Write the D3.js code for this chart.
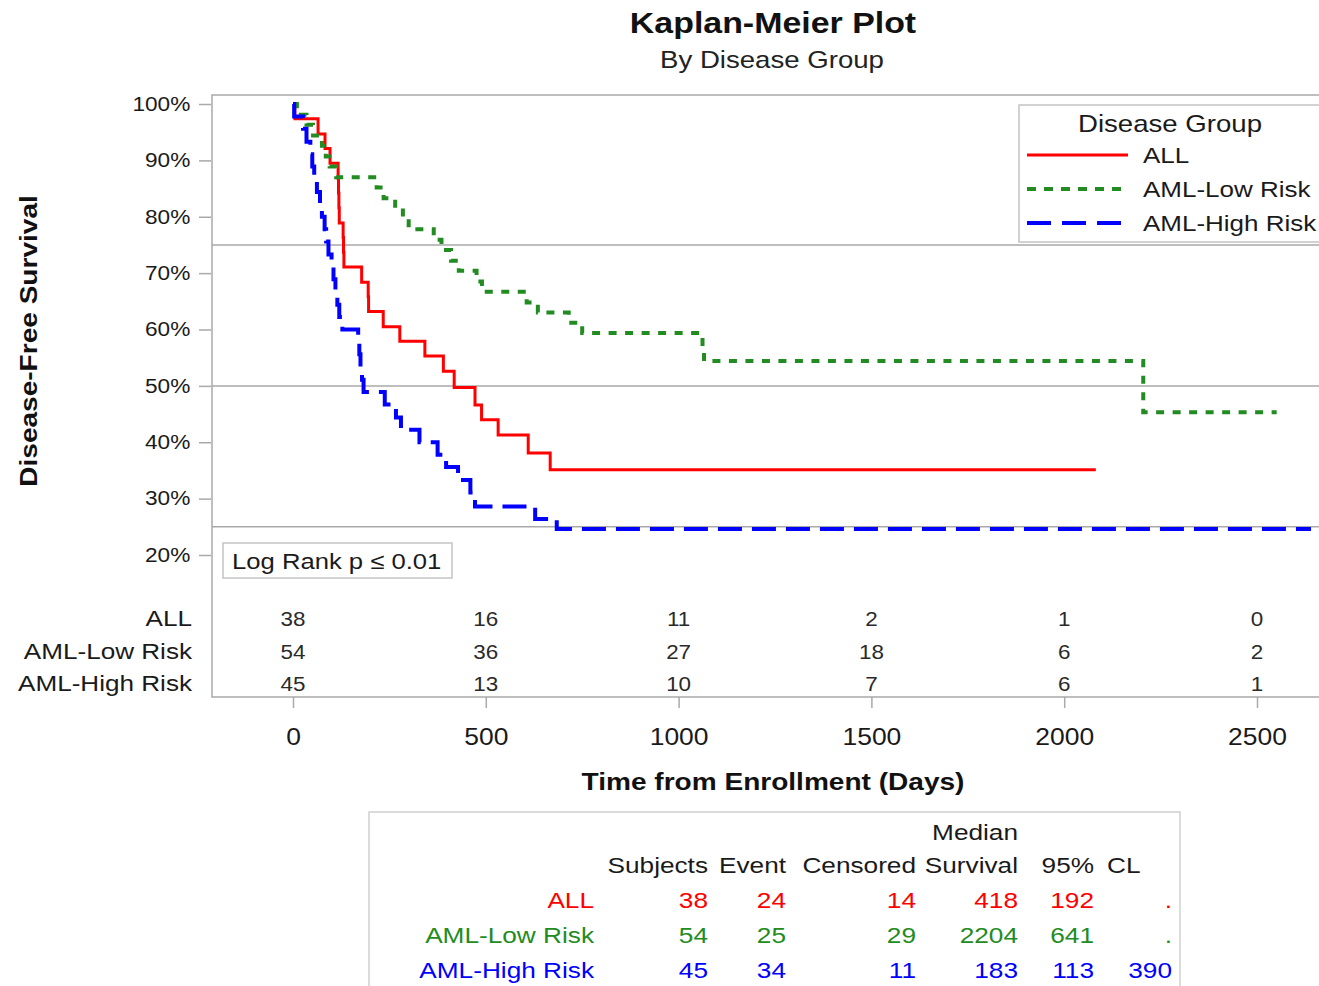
<!DOCTYPE html>
<html><head><meta charset="utf-8">
<script src="https://cdn.jsdelivr.net/npm/d3@7"></script>
<style>
body{margin:0;background:#fff}
svg{display:block;font-family:"Liberation Sans",Arial,sans-serif}
</style>
</head><body>
<svg id="c" width="1319" height="986"></svg>
<script>
// ---------------- data ----------------
const groups = ["ALL", "AML-Low Risk", "AML-High Risk"];
const groupColors = ["#ff0000", "#228b22", "#0000ff"];

const allTime = [0,5,65,83,96,117,118,119,120,130,131,132,178,195,196,234,277,342,390,418,472,489,532,610,667,2082];
const allSurv = [1,0.974,0.947,0.921,0.895,0.868,0.842,0.816,0.789,0.763,0.737,0.711,0.684,0.658,0.632,0.605,0.579,0.553,0.526,0.497,0.466,0.440,0.413,0.381,0.351,0.351];

const lowTime = [0,10,35,52,75,85,95,112,217,235,265,285,300,365,385,410,430,476,490,606,635,715,750,1062,1066,2205,2551];
const lowSurv = [1,0.981,0.963,0.944,0.926,0.907,0.889,0.870,0.852,0.833,0.815,0.796,0.778,0.759,0.741,0.722,0.704,0.685,0.667,0.648,0.630,0.612,0.594,0.569,0.544,0.453,0.453];

const highTime = [0,3,26,35,45,50,55,62,70,75,82,86,92,100,105,110,115,120,128,169,172,175,179,183,238,267,280,328,375,397,428,460,472,628,684,2640];
const highSurv = [1,0.978,0.956,0.933,0.911,0.889,0.867,0.844,0.822,0.800,0.778,0.756,0.733,0.711,0.689,0.667,0.644,0.622,0.600,0.578,0.556,0.533,0.511,0.489,0.467,0.444,0.422,0.400,0.378,0.356,0.333,0.311,0.286,0.264,0.246,0.246];

const riskTimes = [0, 500, 1000, 1500, 2000, 2500];
const riskAll  = [38, 16, 11, 2, 1, 0];
const riskLow  = [54, 36, 27, 18, 6, 2];
const riskHigh = [45, 13, 10, 7, 6, 1];

const xTicks = [0, 500, 1000, 1500, 2000, 2500];
const yTicks = [0.2, 0.3, 0.4, 0.5, 0.6, 0.7, 0.8, 0.9, 1.0];
const quartileLines = [0.25, 0.5, 0.75];

const tblHeader1 = ["", "", "", "Median", "", ""];
const tblHeader2 = ["Subjects", "Event", "Censored", "Survival", "95%", "CL"];
const tblSubjects = [38, 54, 45];
const tblEvent = [24, 25, 34];
const tblCensored = [14, 29, 11];
const tblMedian = [418, 2204, 183];
const tblLower = [192, 641, 113];
const tblUpper = [".", ".", "390"];

const pLabel = "Log Rank p \u2264 0.01";

// ---------------- layout ----------------
const SX = 1.15;           // horizontal text widening (wide SAS font)
const frame = {l: 212, t: 95, r: 1334, b: 697};
const svg = d3.select("#c");
const x = d3.scaleLinear().domain([0, 2500]).range([293, 1257]);
const y = d3.scaleLinear().domain([0.2, 1]).range([555, 104]);
const grey = "#a9a9a9";
const txtCol = "#1a1a1a";

function txt(parent, px, py, s, size, anchor, opts = {}) {
  const t = parent.append("text")
    .attr("transform", `translate(${px},${py})${opts.rotate ? " rotate(-90)" : ""} scale(${SX},1)`)
    .attr("text-anchor", anchor)
    .attr("font-size", size)
    .attr("fill", opts.fill || txtCol)
    .text(s);
  if (opts.bold) t.attr("font-weight", "bold");
  return t;
}

// titles
txt(svg, 773, 33, "Kaplan-Meier Plot", 29.5, "middle", {bold: true, fill: "#111"});
txt(svg, 772, 68, "By Disease Group", 24, "middle", {fill: "#222"});

// frame
svg.append("rect").attr("x", frame.l).attr("y", frame.t)
  .attr("width", frame.r - frame.l).attr("height", frame.b - frame.t)
  .attr("fill", "none").attr("stroke", grey).attr("stroke-width", 1.5);

// quartile reference lines
svg.selectAll("line.ref").data(quartileLines).enter().append("line")
  .attr("class", "ref")
  .attr("x1", frame.l).attr("x2", frame.r)
  .attr("y1", d => y(d)).attr("y2", d => y(d))
  .attr("stroke", grey).attr("stroke-width", 1.5);

// y axis
const yAx = svg.append("g").attr("transform", `translate(${frame.l - 1},0)`)
  .call(d3.axisLeft(y).tickValues(yTicks).tickFormat(d3.format(".0%")).tickSize(12).tickPadding(6));
yAx.select(".domain").remove();
yAx.selectAll(".tick line").attr("stroke", grey).attr("stroke-width", 1.5);
yAx.selectAll(".tick text").attr("font-size", 19.7).attr("fill", txtCol)
  .attr("font-family", null).attr("transform", `scale(${SX},1)`);

// x axis
const xAx = svg.append("g").attr("transform", `translate(0,${frame.b})`)
  .call(d3.axisBottom(x).tickValues(xTicks).tickFormat(d3.format("d")).tickSize(11));
xAx.select(".domain").remove();
xAx.selectAll(".tick line").attr("stroke", grey).attr("stroke-width", 1.5);
xAx.selectAll(".tick text").attr("font-size", 23).attr("fill", txtCol)
  .attr("font-family", null).attr("y", 48).attr("dy", 0)
  .attr("transform", `scale(${SX},1)`);

// axis titles
txt(svg, 37, 341, "Disease-Free Survival", 24.4, "middle", {bold: true, rotate: true, fill: "#111"});
txt(svg, 773, 790, "Time from Enrollment (Days)", 24.4, "middle", {bold: true, fill: "#111"});

// curves
const curves = [
  {t: allTime, s: allSurv, dash: null, w: 3},
  {t: lowTime, s: lowSurv, dash: "8,8.5", w: 4},
  {t: highTime, s: highSurv, dash: "24,10", w: 4}
];
const line = d3.line().x(d => x(d[0])).y(d => y(d[1])).curve(d3.curveStepAfter);
curves.forEach((c, i) => {
  const pts = c.t.map((tt, k) => [tt, c.s[k]]);
  svg.append("path").datum(pts)
    .attr("d", line)
    .attr("fill", "none")
    .attr("stroke", groupColors[i])
    .attr("stroke-width", c.w)
    .attr("stroke-dasharray", c.dash)
    .attr("stroke-linejoin", "miter");
});

// legend
const lg = svg.append("g");
lg.append("rect").attr("x", 1019).attr("y", 105).attr("width", 400).attr("height", 137)
  .attr("fill", "#fff").attr("stroke", "#c4c4c4").attr("stroke-width", 1.5);
txt(lg, 1170, 132, "Disease Group", 24, "middle");
const legDash = [null, "9,8", "24,11"];
groups.forEach((g, i) => {
  lg.append("line").attr("x1", 1027).attr("x2", 1128)
    .attr("y1", 155 + 34 * i).attr("y2", 155 + 34 * i)
    .attr("stroke", groupColors[i]).attr("stroke-width", i === 0 ? 3 : 4)
    .attr("stroke-dasharray", legDash[i]);
  txt(lg, 1143, 163 + 34 * i, g, 22.6, "start");
});

// log rank box
svg.append("rect").attr("x", 223).attr("y", 543).attr("width", 229).attr("height", 35)
  .attr("fill", "#fff").attr("stroke", "#c4c4c4").attr("stroke-width", 1.5);
txt(svg, 232, 569, pLabel, 22.3, "start");

// number at risk
const riskRows = [riskAll, riskLow, riskHigh];
const riskBase = [626, 659, 691];
riskRows.forEach((row, i) => {
  txt(svg, 192, riskBase[i], groups[i], 22.7, "end");
  row.forEach((n, k) => txt(svg, x(riskTimes[k]), riskBase[i], String(n), 19.5, "middle", {fill: "#2a2a2a"}));
});

// summary table
const tb = svg.append("g");
tb.append("rect").attr("x", 369).attr("y", 812).attr("width", 811).attr("height", 220)
  .attr("fill", "#fff").attr("stroke", "#d0d0d0").attr("stroke-width", 1.5);
const colRight = [708, 786, 916, 1018, 1094, 1172];
const fz = 22.8;
tblHeader1.forEach((h, k) => { if (h) txt(tb, colRight[k], 840, h, fz, "end"); });
tblHeader2.forEach((h, k) => {
  if (k === 5) txt(tb, 1107, 873, h, fz, "start");
  else txt(tb, colRight[k], 873, h, fz, "end");
});
const rowBase = [908, 943, 978];
groups.forEach((g, i) => {
  const c = groupColors[i];
  txt(tb, 594, rowBase[i], g, fz, "end", {fill: c});
  const vals = [tblSubjects[i], tblEvent[i], tblCensored[i], tblMedian[i], tblLower[i], tblUpper[i]];
  vals.forEach((v, k) => txt(tb, colRight[k], rowBase[i], String(v), fz, "end", {fill: c}));
});
</script>
</body></html>
